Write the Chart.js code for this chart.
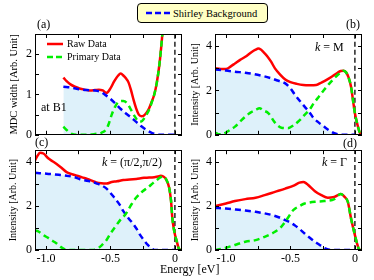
<!DOCTYPE html>
<html>
<head>
<meta charset="utf-8">
<script src="https://cdn.jsdelivr.net/npm/chart.js@4.4.1/dist/chart.umd.min.js"></script>
<style>
  html, body { margin:0; padding:0; background:#fff; }
  body { width:374px; height:280px; position:relative; overflow:hidden; font-family:'Liberation Serif','DejaVu Serif',serif; color:#000; }
  canvas { position:absolute; }
  .t { position:absolute; white-space:nowrap; line-height:1; font-size:12px; }
</style>
</head>
<body>
<canvas id="ca" width="190" height="145" style="left:0;top:0;width:190px;height:145px"></canvas>
<canvas id="cb" width="189" height="145" style="left:185px;top:0;width:189px;height:145px"></canvas>
<canvas id="cc" width="190" height="140" style="left:0;top:140px;width:190px;height:140px"></canvas>
<canvas id="cd" width="189" height="140" style="left:185px;top:140px;width:189px;height:140px"></canvas>

<div style="position:absolute;left:137px;top:3px;width:129px;height:18px;border:1px solid #000;border-radius:4px;background:#ffffc4;">
  <svg style="position:absolute;left:8px;top:7px" width="24" height="4"><line x1="0" y1="2" x2="24" y2="2" stroke="#0000ff" stroke-width="2.5" stroke-dasharray="6,3"/></svg>
  <span class="t" style="left:35px;top:5px;font-size:10.5px">Shirley Background</span>
</div>

<svg style="position:absolute;left:47px;top:42px" width="16" height="4"><line x1="0" y1="2" x2="16" y2="2" stroke="#ff0000" stroke-width="2.5"/></svg>
<span class="t" style="left:67px;top:39px;font-size:10px">Raw Data</span>
<svg style="position:absolute;left:47px;top:55px" width="17" height="4"><line x1="0" y1="2" x2="17" y2="2" stroke="#00ee00" stroke-width="2.5" stroke-dasharray="6,3"/></svg>
<span class="t" style="left:67px;top:52px;font-size:10px">Primary Data</span>

<span class="t" style="left:37px;top:18px">(a)</span>
<span class="t" style="left:346px;top:18px">(b)</span>
<span class="t" style="left:35px;top:136px">(c)</span>
<span class="t" style="left:343px;top:137px">(d)</span>
<span class="t" style="left:41px;top:101px">at B1</span>
<span class="t" style="left:315px;top:41px"><i>k</i> = M</span>
<span class="t" style="left:102px;top:156px"><i>k</i> = (π/2,π/2)</span>
<span class="t" style="left:322px;top:156px"><i>k</i> = Γ</span>
<span class="t" style="left:160px;top:263px">Energy [eV]</span>

<script>
// ---------- Data (energy in eV, intensity in arb. units) ----------
const xTickLabels = { '-1': '-1.0', '-0.5': '-0.5', '0': '0' };

// Panel (a) MDC width at B1
const rawA_E = [-0.865,-0.84,-0.81,-0.78,-0.74,-0.70,-0.66,-0.62,-0.59,-0.56,-0.53,-0.50,-0.47,-0.44,-0.42,-0.40,-0.38,-0.36,-0.34,-0.32,-0.30,-0.28,-0.26,-0.24,-0.22,-0.20,-0.18,-0.16,-0.14,-0.12,-0.10,-0.08];
const rawA_V = [1.42,1.33,1.25,1.20,1.15,1.12,1.10,1.11,1.12,1.10,1.04,1.15,1.33,1.47,1.52,1.47,1.40,1.30,1.10,0.86,0.65,0.50,0.46,0.48,0.55,0.66,0.82,1.00,1.30,1.75,2.40,3.20];
const priA_E = [-0.865,-0.84,-0.80,-0.76,-0.72,-0.68,-0.62,-0.57,-0.53,-0.51,-0.49,-0.46,-0.43,-0.40,-0.37,-0.34,-0.31,-0.28,-0.26,-0.24,-0.22,-0.20,-0.18,-0.16,-0.14,-0.12,-0.10,-0.08];
const priA_V = [0.20,0.12,0.02,0.0,0.0,0.0,0.02,0.05,0.15,0.30,0.50,0.72,0.83,0.84,0.78,0.62,0.45,0.33,0.33,0.40,0.50,0.62,0.80,1.00,1.30,1.75,2.40,3.20];
const shiA_E = [-0.865,-0.80,-0.74,-0.68,-0.62,-0.58,-0.54,-0.50,-0.46,-0.42,-0.38,-0.34,-0.30,-0.26,-0.22,-0.18,-0.14,-0.12,-0.08,-0.04,0.0];
const shiA_V = [1.19,1.17,1.13,1.11,1.10,1.07,0.99,0.89,0.77,0.64,0.53,0.43,0.32,0.21,0.12,0.05,0.01,0,0,0,0];

// Panel (b) k = M
const rawB_E = [-1.085,-1.04,-1.0,-0.96,-0.93,-0.89,-0.85,-0.80,-0.77,-0.75,-0.73,-0.71,-0.68,-0.65,-0.62,-0.58,-0.54,-0.50,-0.45,-0.40,-0.35,-0.30,-0.26,-0.22,-0.18,-0.14,-0.11,-0.09,-0.07,-0.05,-0.03,-0.015,0.0,0.02,0.04,0.055];
const rawB_V = [3.0,2.97,2.97,3.10,3.22,3.38,3.52,3.74,3.84,3.89,3.85,3.74,3.55,3.30,3.0,2.72,2.50,2.38,2.30,2.25,2.24,2.25,2.36,2.48,2.62,2.78,2.88,2.89,2.83,2.60,2.17,1.57,0.97,0.45,0.07,0.0];
const priB_E = [-1.085,-1.06,-1.03,-1.0,-0.96,-0.93,-0.89,-0.85,-0.81,-0.77,-0.74,-0.71,-0.67,-0.62,-0.57,-0.52,-0.47,-0.43,-0.39,-0.35,-0.32,-0.28,-0.24,-0.20,-0.16,-0.13,-0.10,-0.09,-0.07,-0.05,-0.03,-0.015,0.0,0.02,0.04,0.055];
const priB_V = [0.10,0.03,0.02,0.10,0.25,0.37,0.60,0.82,1.00,1.12,1.20,1.10,0.97,0.55,0.32,0.30,0.45,0.65,0.90,1.15,1.42,1.72,2.02,2.30,2.55,2.72,2.84,2.89,2.83,2.60,2.17,1.57,0.97,0.45,0.07,0.0];
const shiB_E = [-1.085,-1.0,-0.93,-0.85,-0.78,-0.71,-0.65,-0.60,-0.54,-0.50,-0.47,-0.43,-0.39,-0.35,-0.32,-0.28,-0.24,-0.20,-0.16,-0.12,-0.08,-0.04,0.0];
const shiB_V = [2.95,2.90,2.85,2.80,2.74,2.65,2.55,2.45,2.32,2.10,1.85,1.55,1.27,1.00,0.75,0.55,0.37,0.20,0.07,0.01,0,0,0];

// Panel (c) k = (pi/2, pi/2)
const rawC_E = [-1.085,-1.065,-1.047,-1.02,-0.98,-0.95,-0.92,-0.88,-0.84,-0.80,-0.76,-0.72,-0.68,-0.64,-0.61,-0.57,-0.53,-0.49,-0.45,-0.40,-0.35,-0.30,-0.24,-0.20,-0.16,-0.13,-0.11,-0.09,-0.07,-0.045,-0.03,-0.02,-0.005,0.015,0.03,0.045,0.055];
const rawC_V = [4.09,4.30,4.43,4.40,4.17,4.05,3.93,3.75,3.55,3.46,3.39,3.31,3.24,3.15,3.08,3.04,3.03,3.10,3.13,3.19,3.21,3.24,3.29,3.30,3.32,3.35,3.39,3.35,3.24,2.85,2.24,1.46,0.85,0.38,0.07,0.0,0.0];
const priC_E = [-1.085,-1.06,-1.02,-0.98,-0.95,-0.92,-0.88,-0.85,-0.80,-0.75,-0.70,-0.65,-0.61,-0.57,-0.53,-0.50,-0.46,-0.42,-0.38,-0.34,-0.30,-0.25,-0.21,-0.17,-0.13,-0.11,-0.09,-0.07,-0.045,-0.03,-0.02,-0.005,0.015,0.03,0.045,0.055];
const priC_V = [0.88,0.85,0.68,0.54,0.42,0.31,0.12,0.02,0.0,0.0,0.0,0.0,0.03,0.20,0.46,0.75,1.08,1.40,1.65,2.05,2.39,2.68,2.85,3.05,3.24,3.32,3.35,3.24,2.85,2.24,1.46,0.85,0.38,0.07,0.0,0.0];
const shiC_E = [-1.085,-0.98,-0.90,-0.84,-0.78,-0.74,-0.70,-0.66,-0.61,-0.57,-0.53,-0.50,-0.47,-0.43,-0.40,-0.36,-0.32,-0.29,-0.27,-0.24,-0.21,-0.18,-0.16,-0.12,-0.08,-0.04,0.0];
const shiC_V = [3.52,3.47,3.43,3.39,3.32,3.24,3.18,3.13,3.04,2.95,2.80,2.60,2.39,2.08,1.77,1.45,1.16,0.90,0.69,0.45,0.23,0.08,0.0,0,0,0,0];

// Panel (d) k = Gamma
const rawD_E = [-1.085,-1.0,-0.93,-0.85,-0.77,-0.70,-0.62,-0.54,-0.47,-0.43,-0.40,-0.38,-0.36,-0.31,-0.26,-0.21,-0.16,-0.11,-0.08,-0.055,-0.03,0.0,0.02,0.035,0.055];
const rawD_V = [2.0,2.12,2.23,2.32,2.38,2.50,2.65,2.80,2.95,3.07,3.10,3.05,2.95,2.68,2.50,2.38,2.42,2.55,2.42,2.20,1.44,0.68,0.23,0.0,0.0];
const priD_E = [-1.085,-1.04,-1.0,-0.93,-0.85,-0.77,-0.70,-0.62,-0.58,-0.54,-0.51,-0.49,-0.46,-0.44,-0.39,-0.35,-0.31,-0.24,-0.16,-0.11,-0.08,-0.055,-0.03,0.0,0.02,0.035,0.055];
const priD_V = [0.0,0.05,0.10,0.23,0.38,0.45,0.60,0.83,1.00,1.29,1.55,1.74,1.90,1.97,2.12,2.17,2.20,2.23,2.32,2.55,2.42,2.20,1.44,0.68,0.23,0.0,0.0];
const shiD_E = [-1.085,-1.0,-0.93,-0.85,-0.77,-0.70,-0.64,-0.58,-0.54,-0.50,-0.47,-0.43,-0.39,-0.35,-0.31,-0.27,-0.24,-0.21,-0.19,-0.15,-0.10,-0.05,0.0];
const shiD_V = [1.92,1.89,1.85,1.80,1.74,1.67,1.59,1.47,1.36,1.25,1.14,0.96,0.75,0.56,0.38,0.22,0.10,0.03,0.0,0,0,0,0];

// ---------- Chart construction ----------
Chart.defaults.font.family = "'Liberation Serif','DejaVu Serif',serif";
Chart.defaults.color = '#000';

const X_MIN = -1.085, X_MAX = 0.055;
const zip = (xs, ys) => xs.map((x, i) => ({ x, y: ys[i] }));

const frameTicks = {
  id: 'frameTicks',
  afterDatasetsDraw(chart) {
    const { ctx, chartArea: a, scales: { x, y } } = chart;
    ctx.save();
    ctx.strokeStyle = '#000';
    ctx.lineWidth = 1;
    ctx.setLineDash([]);
    ctx.beginPath();
    x.ticks.forEach(t => {
      const p = Math.round(x.getPixelForValue(t.value)) + 0.5;
      ctx.moveTo(p, a.bottom); ctx.lineTo(p, a.bottom - 4);
      ctx.moveTo(p, a.top); ctx.lineTo(p, a.top + 4);
    });
    y.ticks.forEach(t => {
      const p = Math.round(y.getPixelForValue(t.value)) + 0.5;
      ctx.moveTo(a.left, p); ctx.lineTo(a.left + 4, p);
      ctx.moveTo(a.right, p); ctx.lineTo(a.right - 4, p);
    });
    ctx.stroke();
    ctx.strokeRect(Math.round(a.left) + 0.5, Math.round(a.top) + 0.5,
                   Math.round(a.right - a.left) - 1, Math.round(a.bottom - a.top) - 1);
    ctx.restore();
  }
};

function makePanel(id, p) {
  const lineBase = { pointRadius: 0, borderWidth: 2.5, fill: false, cubicInterpolationMode: 'monotone' };
  new Chart(document.getElementById(id), {
    type: 'line',
    data: {
      datasets: [
        Object.assign({}, lineBase, { label: 'Primary Data', data: zip(p.priE, p.priV), borderColor: '#00ee00', borderDash: [6, 4] }),
        Object.assign({}, lineBase, { label: 'Shirley Background', data: zip(p.shiE, p.shiV), borderColor: '#0000ff', borderDash: [6, 4], fill: 'origin', backgroundColor: 'rgb(222,241,250)' }),
        Object.assign({}, lineBase, { label: 'Raw Data', data: zip(p.rawE, p.rawV), borderColor: '#ff0000' }),
        { label: 'EF', data: [{ x: 0, y: 0 }, { x: 0, y: p.ymax }], borderColor: '#000', borderWidth: 1.3, borderDash: [5, 3], pointRadius: 0, fill: false }
      ]
    },
    options: {
      responsive: false,
      animation: false,
      devicePixelRatio: 1,
      layout: { padding: { left: 0, right: p.padRight, top: p.padTop, bottom: 0 } },
      plugins: { legend: { display: false }, tooltip: { enabled: false }, filler: { drawTime: 'beforeDatasetsDraw' } },
      scales: {
        x: {
          type: 'linear', min: X_MIN, max: X_MAX,
          grid: { display: false, drawTicks: false }, border: { display: false },
          ticks: {
            display: p.xLabels, stepSize: 0.25, includeBounds: false, autoSkip: false, maxRotation: 0, padding: 2,
            font: { size: 12 },
            callback: v => { const k = String(Math.round(v * 100) / 100); return xTickLabels[k] !== undefined ? xTickLabels[k] : ''; }
          },
          afterFit: s => { s.height = p.xHeight; }
        },
        y: {
          type: 'linear', min: 0, max: p.ymax,
          grid: { display: false, drawTicks: false }, border: { display: false },
          ticks: {
            stepSize: p.yStep, includeBounds: false, autoSkip: false, padding: 3,
            font: { size: 12 },
            callback: v => (Math.abs(v / p.yLabelEvery - Math.round(v / p.yLabelEvery)) < 1e-6 ? String(Math.round(v)) : '')
          },
          title: { display: true, text: p.yTitle, font: { size: p.yTitleSize }, padding: { top: p.titlePad, bottom: 0 } },
          afterFit: s => { s.width = p.yWidth; }
        }
      }
    },
    plugins: [frameTicks]
  });
}

makePanel('ca', { rawE: rawA_E, rawV: rawA_V, priE: priA_E, priV: priA_V, shiE: shiA_E, shiV: shiA_V,
  ymax: 2.5, yStep: 0.5, yLabelEvery: 1, xLabels: false, yTitle: 'MDC width [Arb. Unit]', yTitleSize: 10.5,
  padRight: 8, padTop: 34, xHeight: 9, yWidth: 35, titlePad: 8 });
makePanel('cb', { rawE: rawB_E, rawV: rawB_V, priE: priB_E, priV: priB_V, shiE: shiB_E, shiV: shiB_V,
  ymax: 4.55, yStep: 1, yLabelEvery: 2, xLabels: false, yTitle: 'Intensity [Arb. Unit]', yTitleSize: 10,
  padRight: 12, padTop: 34, xHeight: 9, yWidth: 30, titlePad: 4 });
makePanel('cc', { rawE: rawC_E, rawV: rawC_V, priE: priC_E, priV: priC_V, shiE: shiC_E, shiV: shiC_V,
  ymax: 4.55, yStep: 1, yLabelEvery: 2, xLabels: true, yTitle: 'Intensity [Arb. Unit]', yTitleSize: 10,
  padRight: 8, padTop: 10, xHeight: 30, yWidth: 35, titlePad: 7 });
makePanel('cd', { rawE: rawD_E, rawV: rawD_V, priE: priD_E, priV: priD_V, shiE: shiD_E, shiV: shiD_V,
  ymax: 4.55, yStep: 1, yLabelEvery: 2, xLabels: true, yTitle: 'Intensity [Arb. Unit]', yTitleSize: 10,
  padRight: 12, padTop: 10, xHeight: 30, yWidth: 30, titlePad: 4 });
</script>
</body>
</html>
